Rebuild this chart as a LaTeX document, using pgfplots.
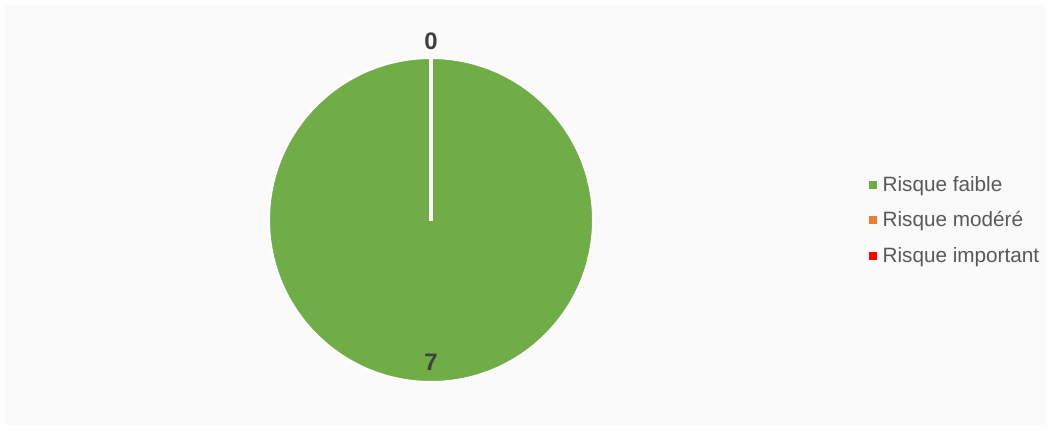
\documentclass[border=0pt]{standalone}
\usepackage{pgfplots}
\pgfplotsset{compat=1.18}
\usepackage{fontspec}
\setmainfont{Liberation Sans}
\definecolor{faible}{HTML}{70AD47}
\definecolor{modere}{HTML}{ED7D31}
\definecolor{important}{HTML}{FF0000}
\definecolor{panel}{HTML}{FAFAFA}
\definecolor{lbl}{HTML}{404040}
\definecolor{legtxt}{HTML}{595959}
\begin{document}
\begin{tikzpicture}
\begin{axis}[
  set layers,
  scale only axis,
  width=1051bp, height=430bp,
  xmin=0, xmax=1051, ymin=0, ymax=430,
  y dir=reverse,
  hide axis,
  clip=false,
  legend style={at={(axis cs:869,220)}, anchor=west, draw=none, fill=none,
    font=\fontsize{20.8}{25}\selectfont, text=legtxt, row sep=19bp,
    legend cell align=left, inner sep=0pt,
    nodes={inner xsep=6bp, inner ysep=0pt}},
  legend image code/.code={\fill[#1] (0bp,-3.5bp) rectangle (7bp,3.5bp);},
]
\fill[white] (rel axis cs:0,0) rectangle (rel axis cs:1,1);
\fill[panel] (axis cs:5,5) rectangle (axis cs:1046,425);
% pie: Risque faible 7, modéré 0, important 0
\addplot[only marks, mark=*, mark size=162bp,
  mark options={fill=faible, draw=white, line width=2bp}, forget plot]
  coordinates {(431,220)};
\addplot[draw=white, line width=4bp, forget plot, on layer=axis foreground]
  coordinates {(431,221) (431,58)};
\addplot[draw=none, forget plot, nodes near coords, point meta=explicit symbolic,
  nodes near coords style={anchor=center, font=\fontsize{24}{28}\selectfont\bfseries, text=lbl}]
  coordinates {(431,41) [0] (431,362) [7]};
% legend
\addlegendimage{faible}
\addlegendentry{Risque faible}
\addlegendimage{modere}
\addlegendentry{Risque modéré}
\addlegendimage{important}
\addlegendentry{Risque important}
\end{axis}
\end{tikzpicture}
\end{document}
